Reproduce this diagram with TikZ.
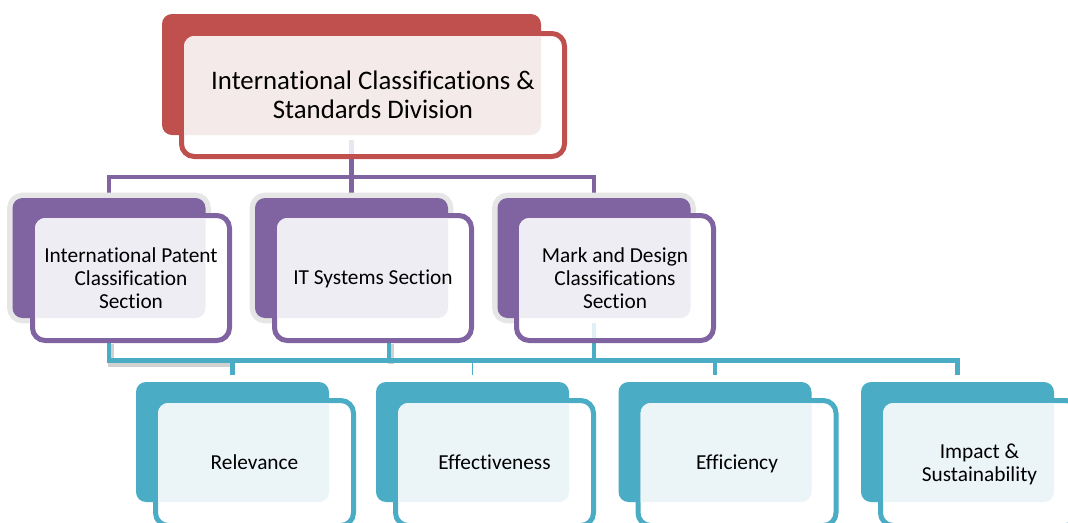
\documentclass[tikz,border=0pt]{standalone}
\usepackage{fontspec}
\setmainfont{Carlito}[Ligatures=NoCommon]
\usetikzlibrary{calc}
\pgfdeclarelayer{background}
\pgfsetlayers{background,main}
\definecolor{cred}{HTML}{C0504D}
\definecolor{credl}{HTML}{F5EAEA}
\definecolor{cpur}{HTML}{8064A2}
\definecolor{cpurl}{HTML}{EFEDF4}
\definecolor{cpurf}{HTML}{E8E6F0}
\definecolor{cteal}{HTML}{4BACC6}
\definecolor{cteall}{HTML}{EBF5F8}
\definecolor{ctealf}{HTML}{E0F0F5}
\definecolor{chalo}{HTML}{E6E6E6}
\tikzset{
  backbox/.style={rectangle, rounded corners=7.5pt, inner sep=0pt, outer sep=0pt, draw=none},
  frontbox/.style={rectangle, rounded corners=9.5pt, inner sep=0pt, outer sep=0pt, fill=white, line width=3.75pt},
  topback/.style={backbox, fill=cred, minimum width=284.25pt, minimum height=90.75pt},
  topfront/.style={frontbox, draw=cred, minimum width=287.25pt, minimum height=92.25pt},
  midback/.style={backbox, fill=cpur, minimum width=144.75pt, minimum height=90pt,
    preaction={draw=chalo, line width=8pt}},
  midfront/.style={frontbox, draw=cpur, minimum width=147.75pt, minimum height=93.75pt},
  lowback/.style={backbox, fill=cteal, minimum width=144.75pt, minimum height=90pt},
  lowfront/.style={frontbox, draw=cteal, minimum width=148.5pt, minimum height=93.75pt},
  toptext/.style={align=center, inner sep=0pt, text depth=0pt, font=\fontsize{20.1pt}{21.75pt}\selectfont},
  boxtext/.style={align=center, inner sep=0pt, text depth=0pt, font=\fontsize{16pt}{17.4pt}\selectfont},
  onetext/.style={boxtext, text height=10.3pt},
  pconn/.style={draw=cpur, line width=3.4pt},
  tconn/.style={draw=cteal, line width=3.6pt},
  tthin/.style={draw=cteal, line width=1.2pt},
  tshadow/.style={draw=black, opacity=.18, line width=4pt, transform canvas={shift={(1.5pt,-2.5pt)}}},
}
\newcommand\boxpair[6]{%
  \node[#4] (#1b) at #2 {};
  \node[#5] (#1f) at #3 {};
  \begin{scope}
    \clip[rounded corners=7.6pt] ($(#1f.north west)+(2.5,2.5)$) rectangle ($(#1f.south east)+(-2.5,-2.5)$);
    \fill[#6, rounded corners=7.5pt] (#1b.north west) rectangle (#1b.south east);
  \end{scope}}
\begin{document}
\begin{tikzpicture}[x=0.75pt, y=-0.75pt]
\useasboundingbox (0,0) rectangle (1068,522);
\clip (0,0) rectangle (1068,522);
% top
\boxpair{t}{(351.5,74.5)}{(373,95)}{topback}{topfront}{credl}
\node[toptext] (tt) at (tf.center) {International Classifications \&\\Standards Division};
% middle
\boxpair{ma}{(109,258)}{(131,278)}{midback}{midfront}{cpurl}
\boxpair{mb}{(351.5,258)}{(373,278)}{midback}{midfront}{cpurl}
\boxpair{mc}{(594,258)}{(615,278)}{midback}{midfront}{cpurl}
\node[boxtext] (mat) at (maf.center) {International Patent\\Classification\\Section};
\node[onetext] (mbt) at (mbf.center) {IT Systems Section};
\node[boxtext] (mct) at (mcf.center) {Mark and Design\\Classifications\\Section};
% bottom
\boxpair{ba}{(232.5,442)}{(254.5,463)}{lowback}{lowfront}{cteall}
\boxpair{bb}{(472.5,442)}{(494.5,463)}{lowback}{lowfront}{cteall}
\boxpair{bc}{(715,442)}{(737,463)}{lowback}{lowfront}{cteall}
\boxpair{bd}{(957.5,442)}{(979.5,463)}{lowback}{lowfront}{cteall}
\node[onetext] (bat) at (baf.center) {Relevance};
\node[onetext] (bbt) at (bbf.center) {Effectiveness};
\node[onetext] (bct) at (bcf.center) {Efficiency};
\node[boxtext] (bdt) at (bdf.center) {Impact \&\\Sustainability};
% faint connector parts seen through the boxes
\draw[cpurf, line width=3.6pt] ($(tb.south)+(0,5)$) -- ($(tb.south |- tf.south)+(0,-2.5)$);
\draw[ctealf, line width=3.6pt] ($(mcb.south)+(0,5)$) -- ($(mcb.south |- mcf.south)+(0,-2.5)$);
% connectors
\coordinate (bus1) at (351.5,177);
\coordinate (bus2) at (472.5,360.5);
\path ($(mbf.south)+(16,0)$) coordinate (mbd);
\begin{pgfonlayer}{background}
  \draw[pconn] (tb.south |- tf.south) -- (bus1);
  \draw[pconn] (mab.north) |- (bus1) -| (mcb.north);
  \draw[pconn] (bus1) -- (mbb.north);
  \draw[tshadow] (mab.south |- maf.south) -- (mab.south |- bus2) -- (bab.north |- bus2);
  \draw[tshadow] (mbd) -- (mbd |- bus2);
  \draw[tconn] (mab.south |- maf.south) -- (mab.south |- bus2) -- (bdb.north |- bus2) -- ($(bdb.north)+(0,-7)$);
  \draw[tconn] (mbd) -- (mbd |- bus2);
  \draw[tconn] (mcb.south |- mcf.south) -- (mcb.south |- bus2);
  \draw[tconn] (bab.north |- bus2) -- ($(bab.north)+(0,-7)$);
  \draw[tthin] (bbb.north |- bus2) -- ($(bbb.north)+(0,-7)$);
  \draw[tconn] (bcb.north |- bus2) -- ($(bcb.north)+(0,-7)$);
\end{pgfonlayer}
\end{tikzpicture}
\end{document}
